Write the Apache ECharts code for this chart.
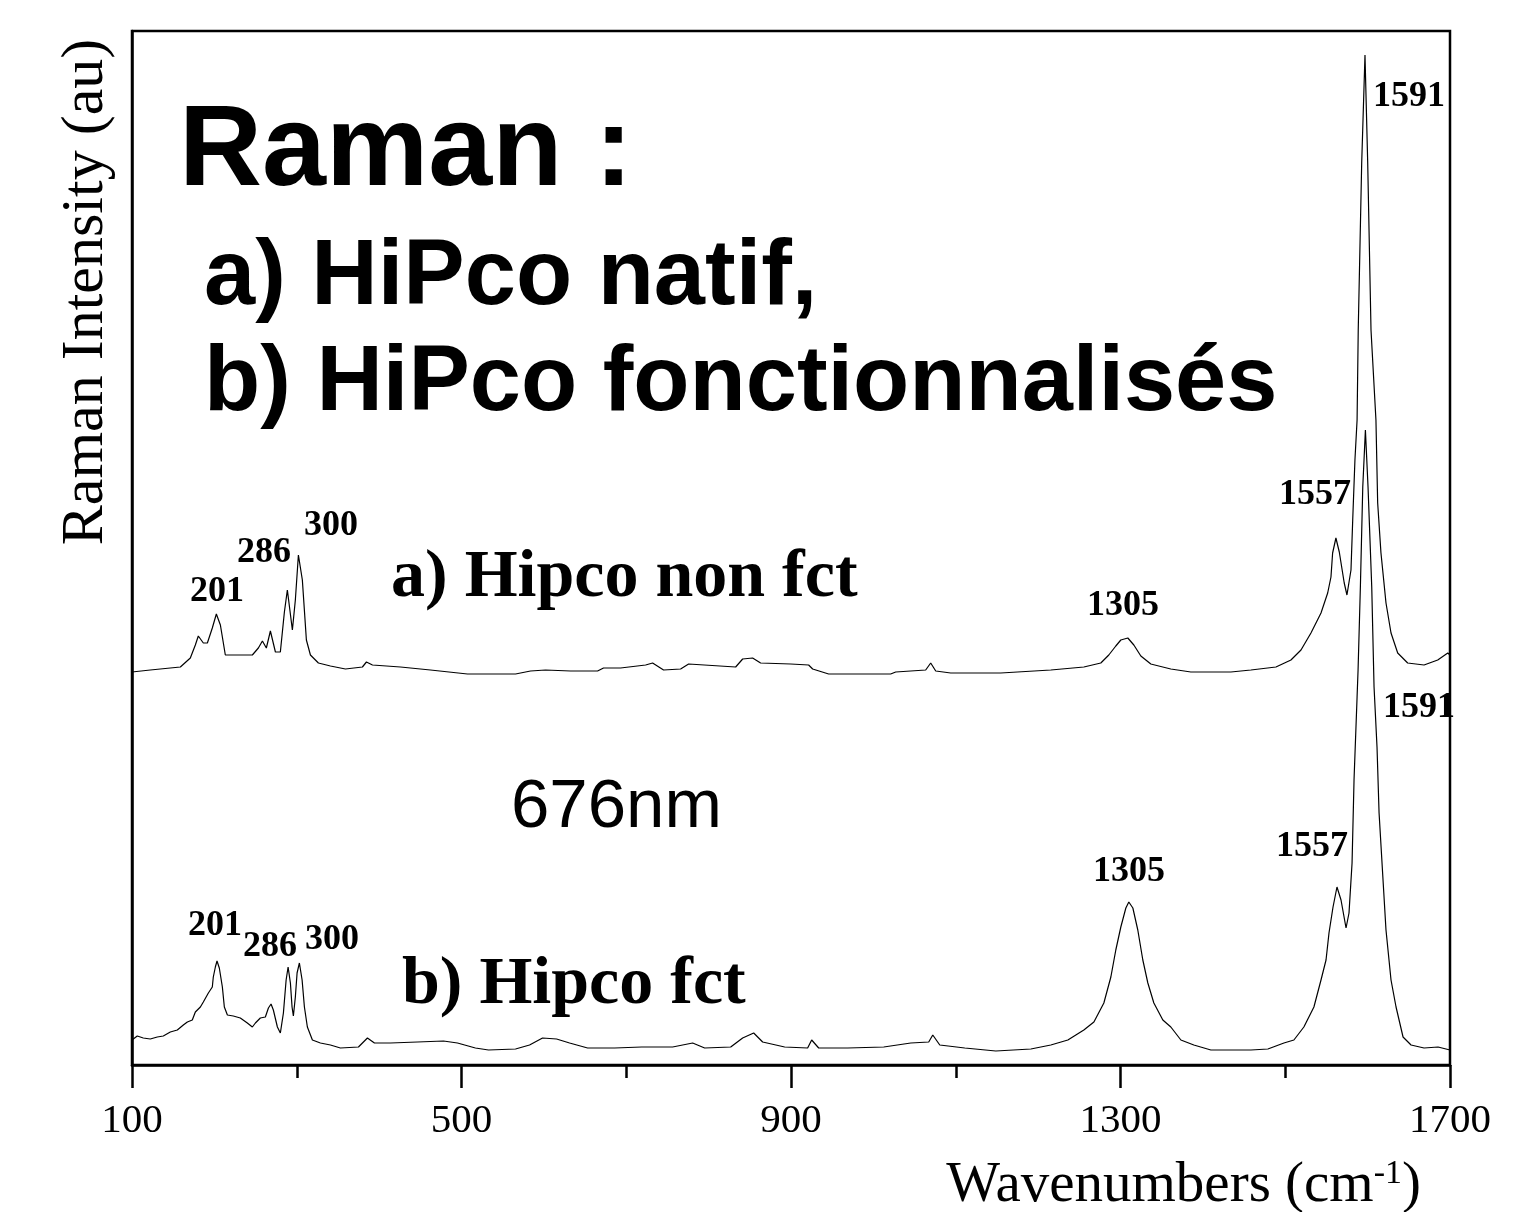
<!DOCTYPE html>
<html><head><meta charset="utf-8">
<script src="https://cdn.jsdelivr.net/npm/echarts@6/dist/echarts.min.js"></script>
<style>html,body{margin:0;padding:0;background:#fff}#c{width:1533px;height:1212px}</style>
</head><body><div id="c"></div>
<script>
// Spectrum a) Hipco non fct (wavenumber cm-1, intensity au)
const waveA = [100,122.2,146.5,158.7,170.8,176.9,180.5,186.6,191.5,197.5,202.4,207.3,213.3,246.1,253.4,258.3,263.1,268.0,274.1,280.1,285.0,288.6,294.7,298.3,302.0,306.8,311.7,316.6,326.3,340.9,359.1,379.7,384.6,391.9,425.9,462.3,507.3,565.6,583.8,602.0,632.4,665.2,672.4,693.1,723.5,732.0,745.3,766.0,775.7,832.8,841.3,853.4,863.1,899.6,921.4,926.3,945.7,1021.0,1027.1,1063.5,1069.6,1075.7,1093.9,1154.6,1215.4,1255.5,1276.1,1285.8,1294.3,1300.4,1308.9,1316.2,1324.7,1336.8,1361.1,1385.4,1434.0,1458.3,1488.7,1506.9,1519.1,1531.2,1543.4,1551.5,1555.5,1557.5,1561.5,1565.6,1571.6,1574.9,1579.8,1581.9,1584.6,1587.2,1588.6,1592.8,1596.8,1600.1,1604.1,1610.1,1612.2,1616.2,1622.3,1628.4,1636.5,1648.6,1668.5,1685.1,1697.3,1700];
const intA = [39.3,39.5,39.7,39.8,40.7,42.0,42.9,42.2,42.2,43.7,45.1,44.0,41.0,41.0,41.7,42.4,41.7,43.4,41.3,41.3,45.3,47.5,43.5,46.5,51.0,48.5,42.5,41.0,40.2,39.9,39.6,39.8,40.3,40.0,39.8,39.5,39.1,39.1,39.4,39.5,39.4,39.4,39.7,39.7,40.0,40.2,39.5,39.6,40.1,39.8,40.6,40.7,40.2,40.1,40.0,39.6,39.1,39.1,39.3,39.5,40.2,39.4,39.2,39.2,39.5,39.8,40.2,41.0,41.9,42.5,42.7,42.0,40.9,40.1,39.6,39.3,39.3,39.5,39.8,40.5,41.5,43.2,45.2,47.2,48.8,51.2,52.7,51.3,48.2,47.0,49.5,54.5,60.5,64.5,73.5,90.2,101.0,90.2,73.5,64.5,56.2,51.2,46.2,43.2,41.2,40.2,40.0,40.5,41.2,41.0];

// Spectrum b) Hipco fct
const waveB = [100,106.4,113.7,122.2,130.7,138.0,146.5,155.0,162.3,167.2,173.2,176.9,183.0,186.6,192.7,197.5,198.7,201.2,203.2,206.0,209.7,212.1,215.8,223.0,231.5,240.0,246.1,249.8,255.8,261.9,265.6,268.8,271.6,276.5,280.1,283.8,287.1,289.5,292.3,294.3,295.9,298.3,300.4,303.2,306.5,309.3,312.9,319.0,328.7,340.9,353.0,374.9,385.8,394.3,413.7,446.5,478.1,495.1,516.9,532.8,565.6,582.6,598.4,615.4,631.2,653.1,685.9,718.7,756.3,780.6,795.2,826.8,841.3,854.7,865.6,892.3,920.2,925.1,933.6,968.8,1012.6,1045.4,1067.2,1072.1,1080.6,1111.0,1148.6,1191.2,1215.4,1236.1,1255.5,1267.7,1279.8,1288.3,1294.3,1300.4,1306.5,1310.1,1315.0,1321.0,1327.1,1333.2,1340.5,1351.4,1361.1,1373.3,1389.0,1409.7,1458.3,1478.9,1498.4,1510.5,1522.6,1534.8,1543.4,1549.5,1553.1,1558.0,1562.8,1567.7,1573.8,1577.4,1581.1,1583.5,1587.2,1588.4,1591.2,1594.1,1597.3,1600.5,1605.0,1607.8,1611.4,1613.9,1618.7,1622.3,1628.4,1634.5,1643.0,1652.7,1668.5,1685.5,1700];
const intB = [2.5,2.9,2.7,2.6,2.8,2.9,3.3,3.5,4.0,4.3,4.5,5.3,5.8,6.3,7.2,7.8,8.8,9.8,10.4,9.7,7.8,5.8,5.0,4.9,4.7,4.2,3.8,4.2,4.7,4.8,5.7,6.1,5.5,3.8,3.2,5.2,8.5,9.8,8.2,5.8,4.9,6.8,9.2,10.2,8.5,5.8,3.8,2.5,2.2,2.0,1.7,1.8,2.7,2.2,2.2,2.3,2.4,2.2,1.7,1.5,1.6,2.0,2.7,2.6,2.2,1.7,1.7,1.8,1.8,2.2,1.7,1.8,2.7,3.2,2.3,1.8,1.7,2.5,1.7,1.7,1.8,2.2,2.3,3.0,2.0,1.7,1.4,1.6,2.0,2.5,3.5,4.3,6.2,8.8,11.5,13.8,15.7,16.3,15.7,13.5,10.5,8.2,6.2,4.5,3.8,2.5,2.0,1.5,1.5,1.6,2.2,2.5,3.8,5.8,8.5,10.5,13.2,15.8,17.8,16.5,13.7,15.2,20.2,28.5,36.8,39.5,47.8,57.8,63.5,57.8,47.8,37.8,31.8,25.2,18.5,13.5,8.5,5.8,2.8,2.0,1.7,1.8,1.5];

const xTicks = [100, 500, 900, 1300, 1700];
const peakLabelsA = ['201','286','300','1305','1557','1591'];
const peakLabelsB = ['201','286','300','1305','1557','1591'];

const zipPairs = (xs, ys) => xs.map((x, i) => [x, ys[i]]);

const chart = echarts.init(document.getElementById('c'), null, {renderer: 'canvas'});
const serif = '"Liberation Serif","Times New Roman",serif';
const sans = '"Liberation Sans",Arial,sans-serif';

function txt(s, x, y, font, opts) {
  return Object.assign({
    type: 'text', x: x, y: y, silent: true,
    style: {text: s, font: font, fill: '#000', textAlign: 'left', textVerticalAlign: 'middle'}
  }, opts || {});
}

// label positions (left x, middle y) for peak labels
const posA = [[190,592],[237,553],[304,526],[1087,606],[1279,495],[1373,97]];
const posB = [[188,926],[243,947],[305,940],[1093,872],[1276,847],[1383,708]];
const peakFont = 'bold 36px ' + serif;

const graphics = [
  txt('Raman :', 179, 153, 'bold 115px ' + sans),
  txt('a) HiPco natif,', 204, 279, 'bold 92px ' + sans),
  txt('b) HiPco fonctionnalisés', 204, 385, 'bold 92px ' + sans),
  txt('a) Hipco non fct', 391, 578, 'bold 68px ' + serif),
  txt('b) Hipco fct', 402, 985, 'bold 68px ' + serif),
  txt('676nm', 511, 808, '69px ' + sans),
  {
    type: 'text', x: 1421, y: 1186, silent: true,
    style: {
      text: 'Wavenumbers (cm{sup|-1})', font: '57px ' + serif, fill: '#000',
      textAlign: 'right', textVerticalAlign: 'middle',
      rich: {sup: {font: '34px ' + serif, fill: '#000', verticalAlign: 'top', padding: [0,0,24,0]}}
    }
  },
  {
    type: 'text', x: 86, y: 292, rotation: Math.PI / 2, silent: true,
    style: {text: 'Raman Intensity (au)', font: '60px ' + serif, fill: '#000', textAlign: 'center', textVerticalAlign: 'middle'}
  }
];
peakLabelsA.forEach((s, i) => graphics.push(txt(s, posA[i][0], posA[i][1], peakFont)));
peakLabelsB.forEach((s, i) => graphics.push(txt(s, posB[i][0], posB[i][1], peakFont)));

chart.setOption({
  animation: false,
  backgroundColor: '#fff',
  grid: {left: 132, right: 83, top: 31, bottom: 147, show: true, borderColor: '#000', borderWidth: 2.5, backgroundColor: 'transparent'},
  xAxis: {
    type: 'value', min: 100, max: 1700, interval: 400,
    axisLine: {show: true, lineStyle: {color: '#000', width: 2.5}},
    axisTick: {show: true, inside: false, length: 23, lineStyle: {color: '#000', width: 2.5}},
    minorTick: {show: true, splitNumber: 2, length: 13, lineStyle: {color: '#000', width: 2.5}},
    splitLine: {show: false},
    axisLabel: {show: true, margin: 36, color: '#000', fontFamily: serif, fontSize: 41,
      customValues: xTicks, formatter: v => String(v)}
  },
  yAxis: {
    type: 'value', min: 0, max: 103.4,
    axisLine: {show: true, lineStyle: {color: '#000', width: 2.5}},
    axisTick: {show: false}, axisLabel: {show: false}, splitLine: {show: false}
  },
  series: [
    {name: 'a) Hipco non fct', type: 'line', data: zipPairs(waveA, intA), showSymbol: false, symbol: 'none',
      lineStyle: {color: '#000', width: 1.2}, silent: true},
    {name: 'b) Hipco fct', type: 'line', data: zipPairs(waveB, intB), showSymbol: false, symbol: 'none',
      lineStyle: {color: '#000', width: 1.2}, silent: true}
  ],
  graphic: graphics
});
</script></body></html>
